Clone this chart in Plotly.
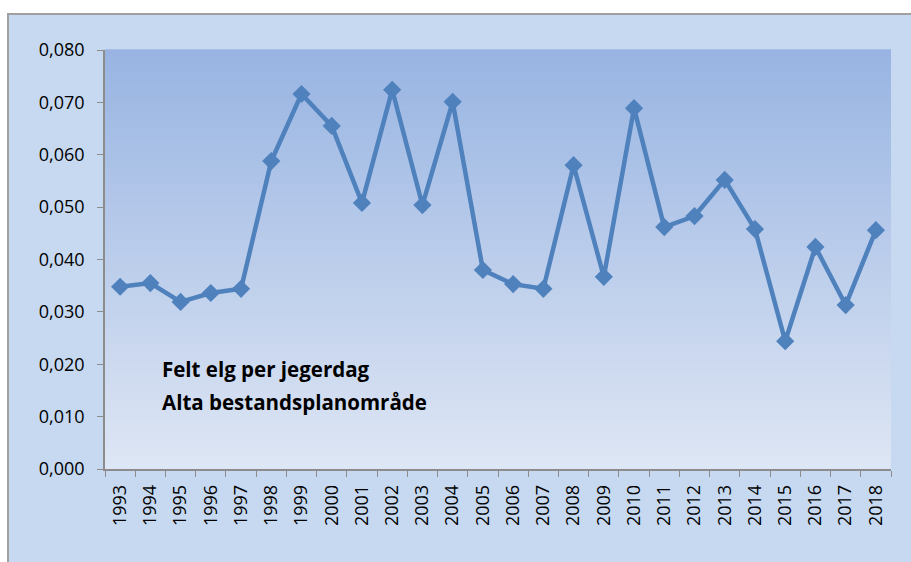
import plotly.graph_objects as go

years = [str(y) for y in range(1993, 2019)]
felt_per_jegerdag = [0.0348, 0.0355, 0.0319, 0.0336, 0.0344, 0.0588, 0.0716, 0.0655,
                     0.0508, 0.0724, 0.0504, 0.0701, 0.0380, 0.0353, 0.0344, 0.0580,
                     0.0367, 0.0689, 0.0462, 0.0483, 0.0552, 0.0458, 0.0244, 0.0424,
                     0.0313, 0.0456]
y_ticks = [0.0, 0.01, 0.02, 0.03, 0.04, 0.05, 0.06, 0.07, 0.08]
title_lines = ["Felt elg per jegerdag", "Alta bestandsplanområde"]

W, H = 911, 562
ml, mr, mt, mb = 105, 20, 50, 93
pw, ph = W - ml - mr, H - mt - mb

def px_x(p):
    return (p - ml) / pw

def px_y(p):
    return (H - mb - p) / ph

shapes = []
# chart area with frame
shapes.append(dict(type="rect", xref="paper", yref="paper",
                   x0=px_x(8), x1=px_x(925), y0=px_y(580), y1=px_y(14),
                   fillcolor="#C6D9F0", line=dict(color="#A0A0A0", width=2), layer="below"))
# gradient plot background
top = (0x98, 0xB4, 0xE2)
bot = (0xDE, 0xE6, 0xF4)
n = 60
for i in range(n):
    t = (i + 0.5) / n
    c = tuple(round(bot[k] + (top[k] - bot[k]) * t) for k in range(3))
    shapes.append(dict(type="rect", xref="paper", yref="paper",
                       x0=0, x1=1, y0=i / n, y1=(i + 1) / n + 0.002,
                       fillcolor="rgb(%d,%d,%d)" % c, line=dict(width=0), layer="below"))

fig = go.Figure()
fig.add_trace(go.Scatter(
    x=years, y=felt_per_jegerdag, mode="lines+markers",
    line=dict(color="#4F81BD", width=4.5),
    marker=dict(symbol="diamond", size=14, color="#4F81BD"),
    showlegend=False, cliponaxis=False))

font_family = "Open Sans, Noto Sans, sans-serif"
annotations = []
for line, ypx in zip(title_lines, [369, 402]):
    annotations.append(dict(xref="paper", yref="paper", x=px_x(160), y=px_y(ypx),
                            xanchor="left", yanchor="middle", align="left", showarrow=False,
                            text="<b>" + line + "</b>",
                            font=dict(family=font_family, size=20.5, color="black")))

fig.update_layout(
    width=W, height=H,
    margin=dict(l=ml, r=mr, t=mt, b=mb),
    paper_bgcolor="white", plot_bgcolor="rgba(0,0,0,0)",
    separators=", ",
    shapes=shapes,
    font=dict(family=font_family, size=18, color="black"),
    annotations=annotations,
)
fig.update_xaxes(type="category", tickangle=-90, tickson="boundaries",
                 ticks="outside", ticklen=6, tickcolor="#8C8C8C",
                 showline=True, linecolor="#8C8C8C", linewidth=1.5,
                 showgrid=False, zeroline=False, ticklabelstandoff=7,
                 tickfont=dict(size=18), range=[-0.5, len(years) - 0.5])
fig.update_yaxes(range=[0, 0.08], tickvals=y_ticks, tickformat=".3f",
                 ticks="outside", ticklen=6, tickcolor="#8C8C8C",
                 showline=True, linecolor="#8C8C8C", linewidth=1.5,
                 showgrid=False, zeroline=False, ticklabelstandoff=9,
                 tickfont=dict(size=18))

fig.write_html("out.html", config={"displayModeBar": False},
               post_script="document.body.style.margin='0';document.body.style.overflow='hidden';")
